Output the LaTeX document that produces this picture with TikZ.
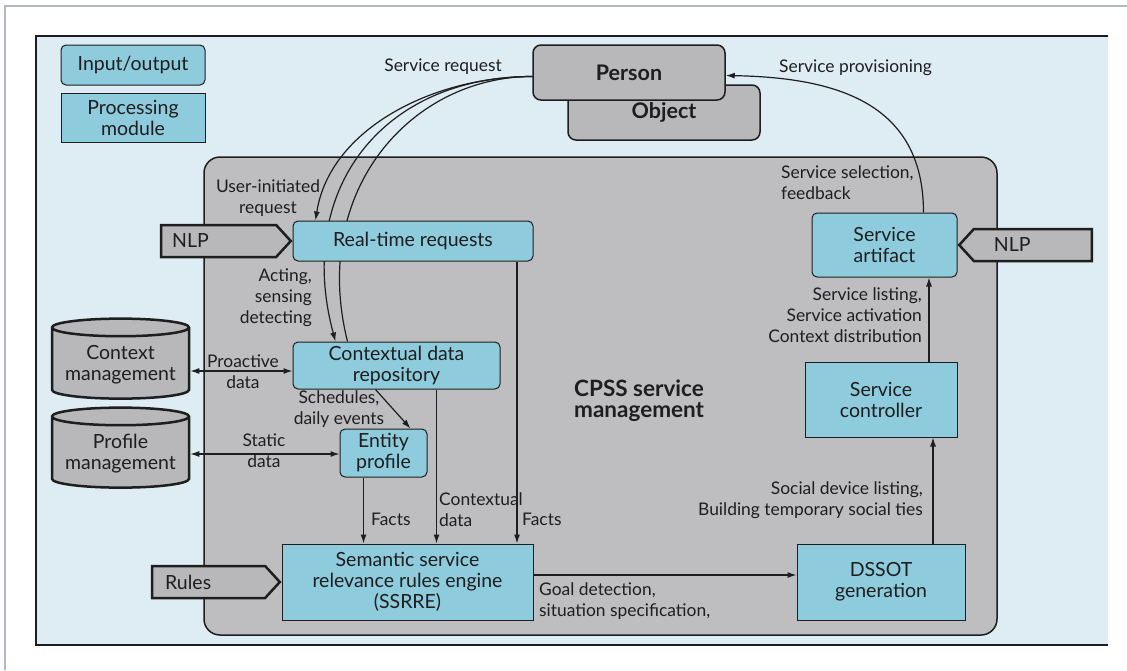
\documentclass[tikz,border=0pt]{standalone}
\usepackage{fontspec}
\setmainfont{Lato}
\usetikzlibrary{shapes, shapes.geometric, shapes.symbols, arrows.meta, calc, positioning}
\definecolor{panelblue}{RGB}{222,236,243}
\definecolor{boxcyan}{RGB}{142,204,221}
\definecolor{cpssgray}{RGB}{190,190,192}
\definecolor{objgray}{RGB}{184,184,186}
\definecolor{framegray}{RGB}{176,184,192}
\definecolor{inkdark}{RGB}{30,30,30}
\pgfdeclarelayer{back}
\pgfdeclarelayer{mid}
\pgfsetlayers{back,mid,main}

\begin{document}
\begin{tikzpicture}[x=1pt, y=-1pt,
    every node/.style = {font=\fontsize{19.5}{21}\selectfont, text=inkdark},
    lbl/.style = {font=\fontsize{17.4}{21}\selectfont, inner sep=0pt},
    iobox/.style = {draw=inkdark, fill=boxcyan, rounded corners=5pt, line width=1pt, align=center},
    procbox/.style = {draw=inkdark, fill=boxcyan, line width=1pt, align=center},
    thing/.style = {draw=inkdark, fill=objgray, rounded corners=8pt, line width=1.5pt,
                    minimum width=192, minimum height=55, font=\fontsize{21.5}{21}\selectfont\bfseries},
    store/.style = {draw=inkdark, fill=objgray, cylinder, shape border rotate=90, aspect=0.15,
                    line width=2.5pt, align=center, minimum width=137, minimum height=80},
    feed/.style = {draw=inkdark, fill=objgray, signal, signal pointer angle=95, line width=2.5pt,
                   align=left, minimum height=32},
    flow/.style = {-{Latex[length=9pt,width=6pt]}, line width=1.2pt, draw=inkdark},
    wire/.style = {line width=1.2pt, draw=inkdark},
    both/.style = {{Latex[length=9pt,width=6pt]}-{Latex[length=9pt,width=6pt]}, line width=1.2pt, draw=inkdark}
  ]
  \useasboundingbox (0,0) rectangle (1127,670);

  \begin{pgfonlayer}{back}
    \draw[framegray, line width=1.5pt] (5,670) |- (1127,6);
    \fill[panelblue] (36,36) rectangle (1108,645);
    \draw[inkdark, line width=1.5pt] (1108,36) -- (36,36) -- (36,645) -- (1108,645);
    % CPSS service management
    \node[draw=inkdark, fill=cpssgray, rounded corners=16pt, line width=1.5pt,
          minimum width=793, minimum height=478] (cpss) at (600.5,396) {};
  \end{pgfonlayer}

  % legend
  \node[iobox, minimum width=144, minimum height=40] (legio) at (133,65) {Input/output};
  \node[procbox, minimum width=144, minimum height=49] (legproc) at (133,117.5) {Processing\\module};

  % person / object
  \node[thing] (object) at (664,112.5) {Object};
  \node[thing] (person) at (629,72.5) {Person};

  \node[anchor=west, align=left, inner sep=0pt, font=\fontsize{22.5}{21}\selectfont\bfseries]
        (cpsslbl) at (574,400.5) {CPSS service\\management};

  \node[iobox, minimum width=240, minimum height=40] (rtr) at (413,241) {Real-time requests};
  \node[iobox, minimum width=207, minimum height=47] (ctx) at (396.5,365.5) {Contextual data\\repository};
  \node[iobox, minimum width=87, minimum height=48] (entity) at (383.5,453) {Entity\\profile};
  \node[procbox, minimum width=251, minimum height=76] (ssrre) at (407.5,582)
        {Semantic service\\relevance rules engine\\(SSRRE)};
  \node[procbox, minimum width=168, minimum height=76] (dssot) at (881,582) {DSSOT\\generation};
  \node[procbox, minimum width=152, minimum height=75] (ctl) at (881,399.5) {Service\\controller};
  \node[iobox, minimum width=145, minimum height=64] (art) at (884.5,245) {Service\\artifact};

  % stores and inputs
  \node[store] (ctxm) at (120.5,365) {Context\\management};
  \node[store] (profm) at (120.5,454) {Profile\\management};
  \node[feed, signal to=east, anchor=east, inner xsep=11pt, text width=93] (nlpl) at (rtr.west) {NLP};
  \node[feed, signal to=west, anchor=west, inner xsep=20pt, text width=78] (nlpr) at (art.east) {NLP};
  \node[feed, signal to=east, anchor=east, inner xsep=13pt, text width=87] (rules) at (ssrre.west) {Rules};

  % labels
  \node[lbl, anchor=east] (lbsreq) at (502,67) {Service request};
  \node[lbl, anchor=west] (lbsprov) at (779,68) {Service provisioning};
  \node[lbl, align=center] (lbuser) at (268,198) {User-initiated\\request};
  \node[lbl, anchor=east, align=right] (lbact) at (312,298) {Acting,\\sensing\\detecting};
  \node[lbl, align=center] (lbproact) at (243,371.5) {Proactive\\data};
  \node[lbl, align=center] (lbsched) at (339,409.5) {Schedules,\\daily events};
  \node[lbl, align=center] (lbstatic) at (264,451) {Static\\data};
  \node[lbl, anchor=west] (lbfacts) at (371,519) {Facts};
  \node[lbl, anchor=west, align=left] (lbctxd) at (439,509.5) {Contextual\\data};
  \node[lbl, anchor=west] (lbfactsb) at (522,519) {Facts};
  \node[lbl, anchor=west, align=left] (lbgoal) at (539,601) {Goal detection,\\situation specification,};
  \node[lbl, anchor=east, align=right] (lbsocial) at (923,500.5) {Social device listing,\\Building temporary social ties};
  \node[lbl, anchor=east, align=right] (lblist) at (922,315.5) {Service listing,\\Service activation\\Context distribution};
  \node[lbl, anchor=west, align=left] (lbsel) at (781,183) {Service selection,\\feedback};

  % connectors
  \foreach \src/\dx in {entity/-20, ctx/40, rtr/104}
    \draw[flow] ([xshift=\dx pt]\src.south) -- ([xshift=\dx pt]\src.south |- ssrre.north);
  \draw[flow] ([xshift=-21pt]ctx.south) -- ([xshift=27pt]entity.north);
  \draw[both] ([yshift=-6pt]ctxm.east) -- ([yshift=-6pt]ctxm.east -| ctx.west);
  \draw[both] (profm.east) -- (profm.east -| entity.west);
  \draw[flow] ([yshift=7pt]ssrre.east) -- ([yshift=7pt]dssot.west);
  \draw[flow] ([xshift=52pt]dssot.north) -- ([xshift=52pt]dssot.north |- ctl.south);
  \draw[flow] ([xshift=48pt]ctl.north) -- ([xshift=48pt]ctl.north |- art.south);

  \begin{pgfonlayer}{mid}
    \draw[flow] ([yshift=-4pt]person.west) .. controls +(-100,0) and +(14,-91) .. ([xshift=23pt]rtr.north west);
    \draw[flow] ([yshift=-4pt]person.west) .. controls +(-150,0) and +(-41,-152) .. ([xshift=43pt]ctx.north west);
    \draw[wire] ([yshift=-4pt]person.west) .. controls +(-120,0) and +(-38,-152) .. ([xshift=55pt]ctx.north west);
    \draw[flow] ([xshift=39pt]art.north) .. controls +(0,-110) and +(110,2) .. ([yshift=-3pt]person.east);
  \end{pgfonlayer}
\end{tikzpicture}
\end{document}
